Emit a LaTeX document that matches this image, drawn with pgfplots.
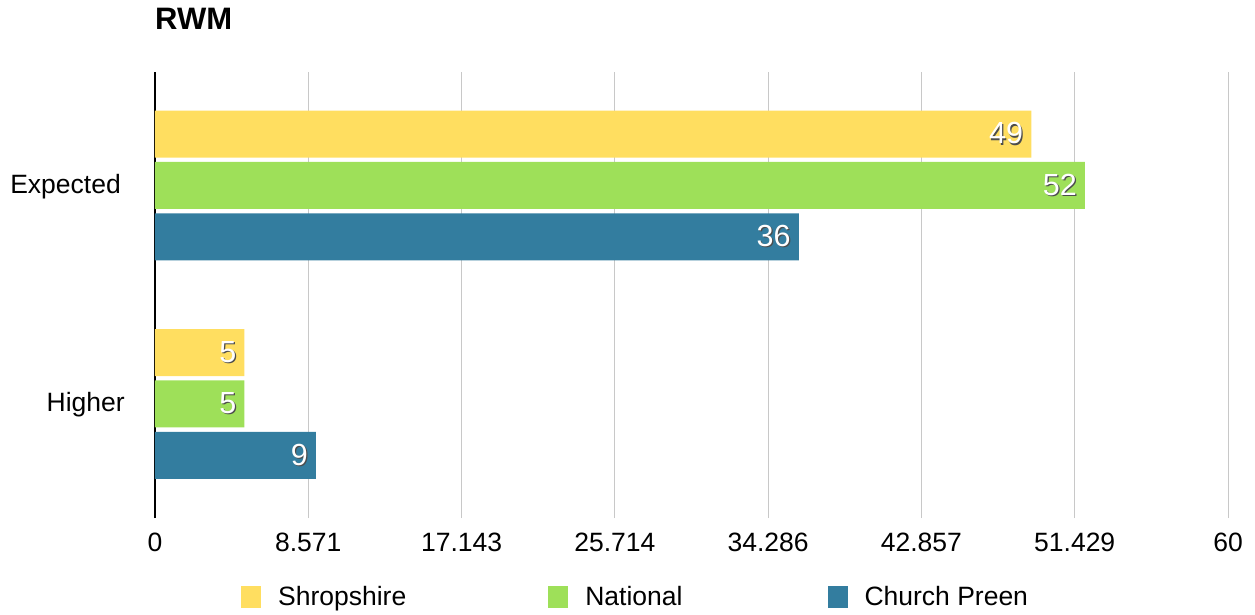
\documentclass[border=0pt]{standalone}
\usepackage{pgfplots}
\pgfplotsset{compat=1.18}
\usepackage{fontspec}
\setmainfont{Liberation Sans}
\definecolor{cShrop}{RGB}{255,222,96}
\definecolor{cNat}{RGB}{158,224,89}
\definecolor{cChurch}{RGB}{51,125,159}
\definecolor{gridgray}{RGB}{200,200,200}
\newcommand\shadowtext[1]{\makebox[0pt][l]{\raisebox{-1.3pt}{\hspace{1.3pt}\textcolor{black!70}{#1}}}#1}
\pgfplotsset{sqlegend/.style={legend image code/.code={\fill[##1] (0pt,-11pt) rectangle (20pt,11pt);}}}
\begin{document}
\begin{tikzpicture}
\begin{axis}[
  at={(0pt,0pt)}, anchor=south west,
  scale only axis, width=1073pt, height=446pt,
  xmin=0, xmax=60, ymin=-0.522, ymax=1.519,
  axis lines*=left,
  x axis line style={draw=none},
  y axis line style={line width=2pt, black},
  xtick={0,8.5714,17.1429,25.7143,34.2857,42.8571,51.4286,60},
  xticklabels={0,8.571,17.143,25.714,34.286,42.857,51.429,60},
  ytick={0,1}, yticklabels={Higher\hspace*{-4pt},Expected},
  major tick length=0pt,
  xmajorgrids, grid style={gridgray, line width=1pt},
  font=\fontsize{26.5}{31}\selectfont,
  /pgf/number format/assume math mode=true,
  xticklabel style={anchor=base, inner sep=0pt, yshift=-33pt},
  yticklabel style={anchor=base east, inner sep=0pt, xshift=-34pt, yshift=-8pt},
  title={RWM},
  title style={at={(0,1)}, anchor=base west, inner sep=0pt, yshift=37pt, font=\bfseries\fontsize{31}{31}\selectfont},
  xbar, bar width=0.215,
  nodes near coords={\shadowtext{\pgfmathprintnumber\pgfplotspointmeta}},
  every node near coord/.append style={anchor=east, inner sep=0pt, xshift=-8pt, text=white, font=\fontsize{30.5}{31}\selectfont},
  legend columns=3,
  legend style={at={(0.0801,-0.1771)}, anchor=west, draw=none, fill=none, inner sep=0pt,
    nodes={inner sep=0pt},
    /tikz/every odd column/.append style={column sep=17pt},
    /tikz/column 2/.append style={column sep=142pt},
    /tikz/column 4/.append style={column sep=145pt}},
]
\addplot[fill=cShrop, draw=none, bar shift=0.235, sqlegend] coordinates {(49,1) (5,0)};
\addplot[fill=cNat, draw=none, bar shift=0, sqlegend] coordinates {(52,1) (5,0)};
\addplot[fill=cChurch, draw=none, bar shift=-0.235, sqlegend] coordinates {(36,1) (9,0)};
\legend{Shropshire,National,Church Preen}
\end{axis}
\pgfresetboundingbox
\path[use as bounding box] (-155pt,-96pt) rectangle (1100pt,518pt);
\end{tikzpicture}
\end{document}
